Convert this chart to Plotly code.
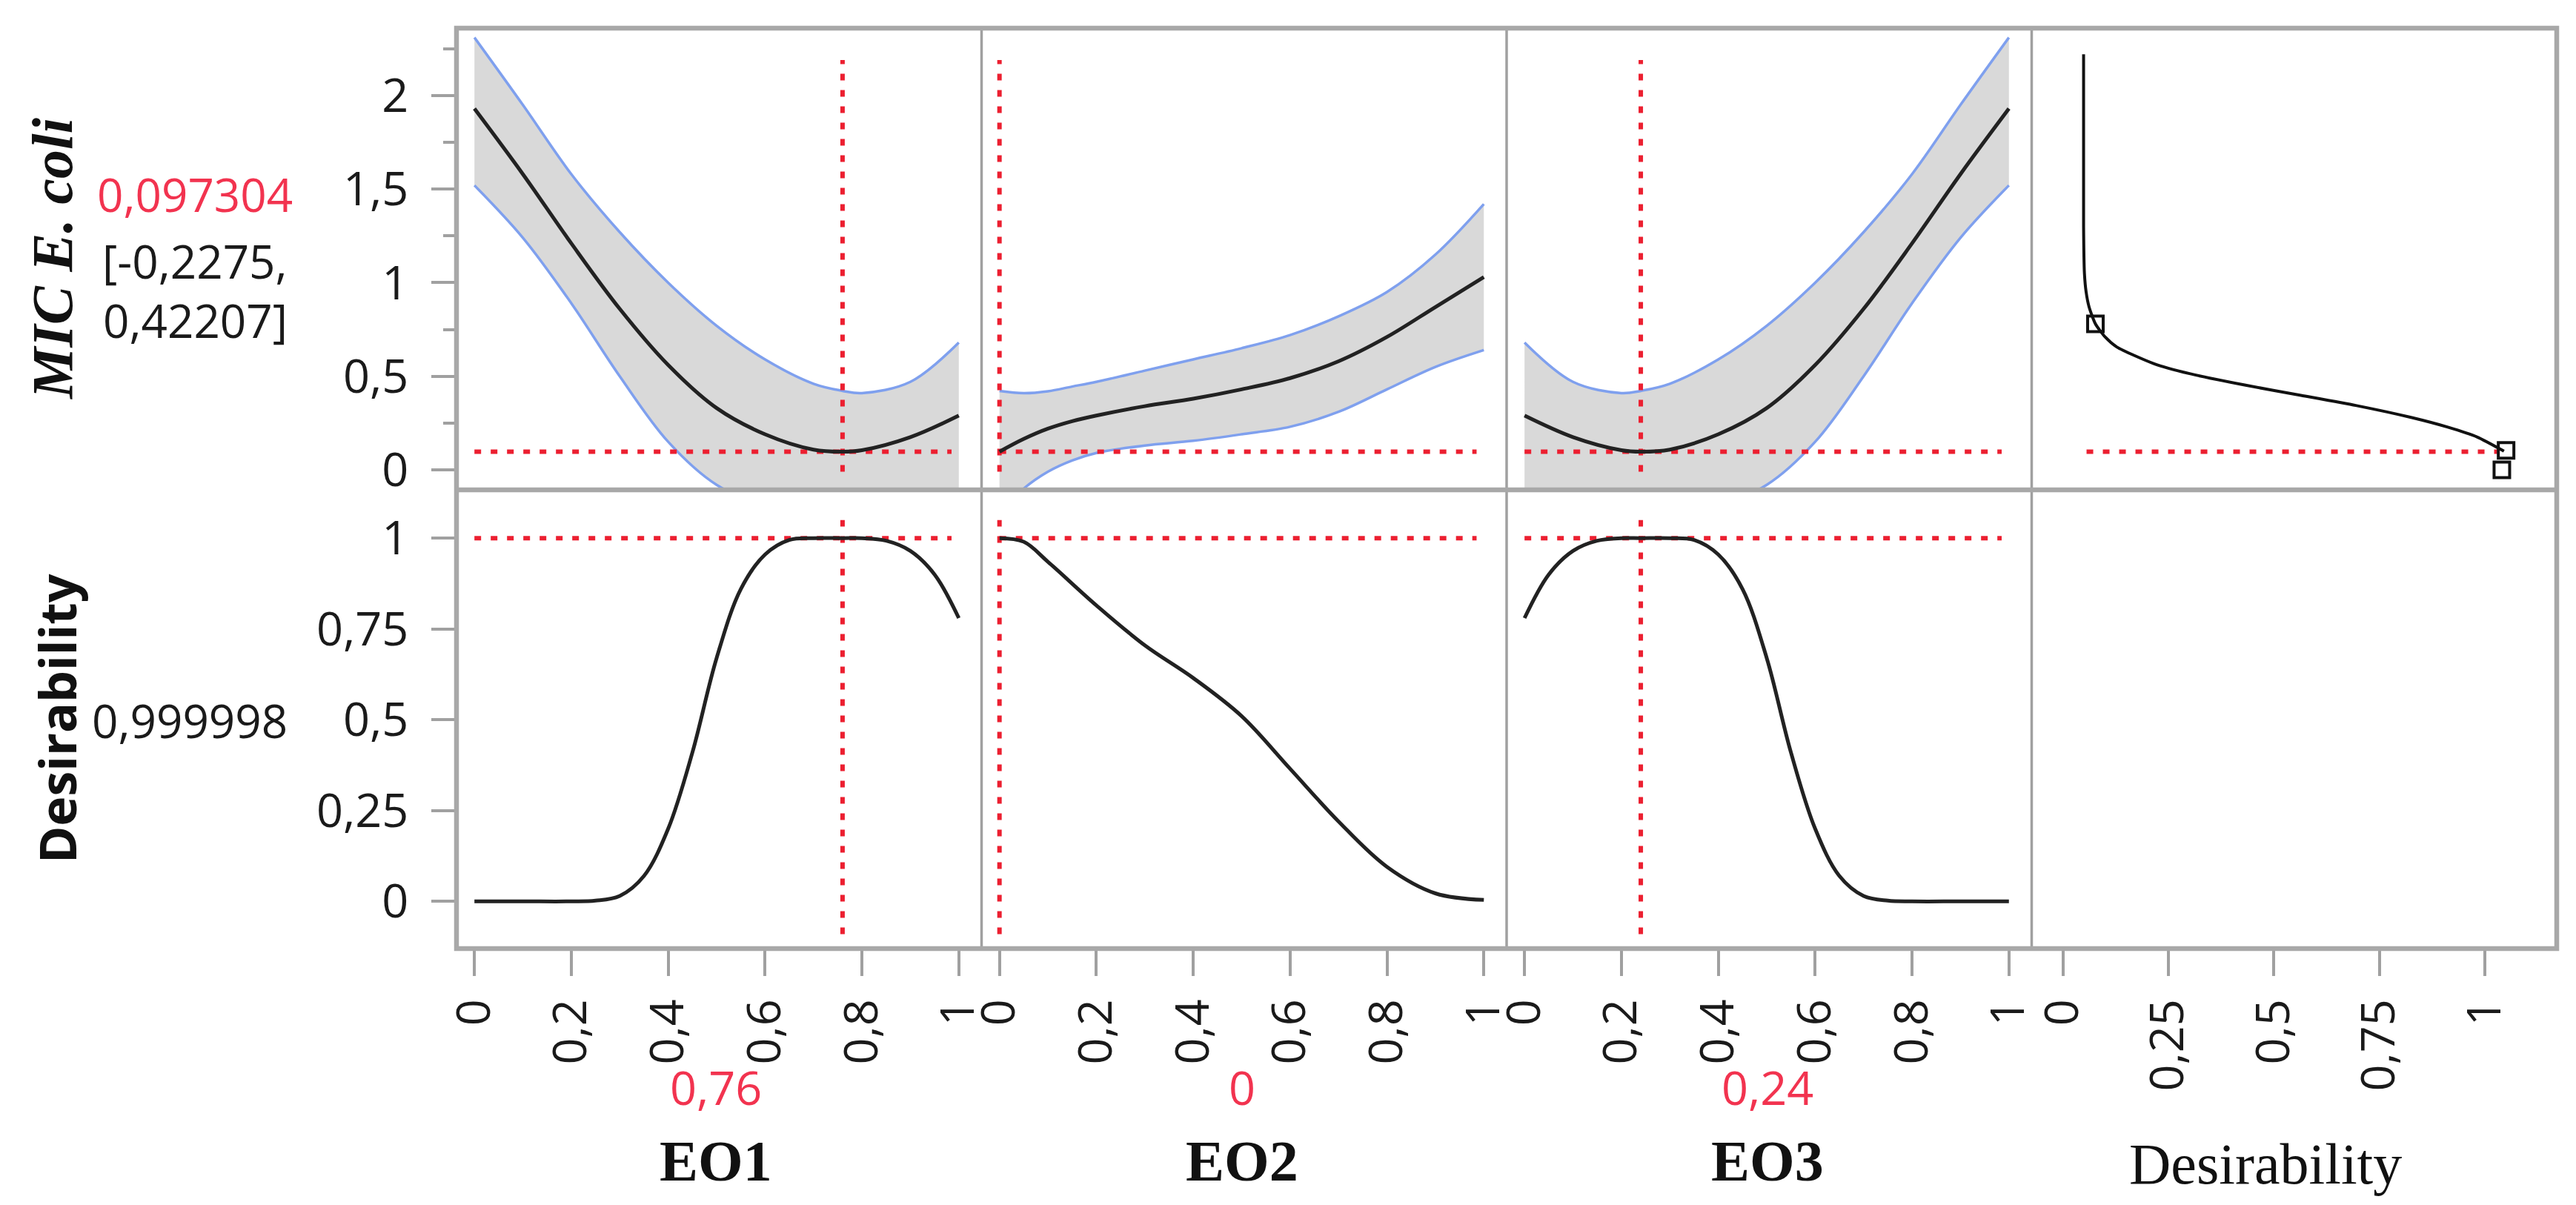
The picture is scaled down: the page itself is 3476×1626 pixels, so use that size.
import plotly.graph_objects as go
from plotly.subplots import make_subplots

# prediction profiler for MIC E. coli, current setting EO1=0,76 EO2=0 EO3=0,24
eo1_x = [0, 0.1, 0.2, 0.3, 0.4, 0.5, 0.6, 0.7, 0.76, 0.8, 0.9, 1.0]
eo1_mic = [1.93, 1.58, 1.21, 0.86, 0.56, 0.33, 0.19, 0.108, 0.097, 0.105, 0.175, 0.29]
eo1_hi = [2.31, 1.95, 1.58, 1.27, 1.00, 0.77, 0.59, 0.46, 0.422, 0.41, 0.47, 0.68]
eo1_lo = [1.52, 1.24, 0.89, 0.50, 0.15, -0.08, -0.19, -0.22, -0.2275, -0.22, -0.19, -0.11]

eo2_x = [0, 0.05, 0.1, 0.15, 0.2, 0.3, 0.4, 0.5, 0.6, 0.7, 0.8, 0.9, 1.0]
eo2_mic = [0.097, 0.165, 0.22, 0.26, 0.29, 0.34, 0.38, 0.43, 0.49, 0.58, 0.71, 0.87, 1.03]
eo2_hi = [0.422, 0.41, 0.42, 0.445, 0.47, 0.53, 0.59, 0.65, 0.72, 0.82, 0.95, 1.15, 1.42]
eo2_lo = [-0.2275, -0.10, -0.01, 0.05, 0.09, 0.13, 0.155, 0.19, 0.23, 0.31, 0.43, 0.55, 0.64]

eo3_x = [0, 0.1, 0.2, 0.24, 0.3, 0.4, 0.5, 0.6, 0.7, 0.8, 0.9, 1.0]
eo3_mic = [0.29, 0.175, 0.105, 0.097, 0.108, 0.19, 0.33, 0.56, 0.86, 1.21, 1.58, 1.93]
eo3_hi = [0.68, 0.47, 0.41, 0.422, 0.46, 0.59, 0.77, 1.00, 1.27, 1.58, 1.95, 2.31]
eo3_lo = [-0.11, -0.19, -0.22, -0.2275, -0.22, -0.19, -0.08, 0.15, 0.50, 0.89, 1.24, 1.52]

# desirability traces
des1_x = [0, 0.1, 0.2, 0.25, 0.3, 0.35, 0.4, 0.45, 0.5, 0.55, 0.6, 0.65, 0.7, 0.76, 0.8, 0.85, 0.9, 0.95, 1.0]
des1 = [0, 0, 0, 0.002, 0.015, 0.07, 0.2, 0.41, 0.67, 0.86, 0.955, 0.995, 1.0, 1.0, 1.0, 0.993, 0.965, 0.90, 0.78]
des2_x = [0, 0.05, 0.1, 0.2, 0.3, 0.4, 0.5, 0.6, 0.7, 0.8, 0.9, 1.0]
des2 = [1.0, 0.99, 0.935, 0.815, 0.705, 0.615, 0.51, 0.365, 0.22, 0.095, 0.022, 0.004]
des3_x = [0, 0.05, 0.1, 0.15, 0.2, 0.24, 0.3, 0.35, 0.4, 0.45, 0.5, 0.55, 0.6, 0.65, 0.7, 0.75, 0.8, 0.9, 1.0]
des3 = [0.78, 0.90, 0.965, 0.993, 1.0, 1.0, 1.0, 0.995, 0.955, 0.86, 0.67, 0.41, 0.2, 0.07, 0.015, 0.002, 0, 0, 0]

# desirability function (x = desirability, y = MIC)
dfun_d = [0.049, 0.049, 0.051, 0.055, 0.062, 0.077, 0.1, 0.128, 0.215, 0.30, 0.433, 0.564, 0.694, 0.825, 0.912, 0.982, 1.045]
dfun_mic = [2.22, 1.3, 1.05, 0.95, 0.87, 0.78, 0.71, 0.656, 0.568, 0.514, 0.452, 0.398, 0.344, 0.28, 0.228, 0.175, 0.10]
dmark_d = [0.077, 1.05, 1.04]
dmark_mic = [0.78, 0.104, 0.0]

current = [0.76, 0, 0.24]
current_txt = ["0,76", "0", "0,24"]
factors = ["EO1", "EO2", "EO3"]
mic_pred = 0.097304
des_pred = 0.999998

mic_ticks = [0, 0.5, 1, 1.5, 2]
mic_ticktext = ["0", "0,5", "1", "1,5", "2"]
des_ticks = [0, 0.25, 0.5, 0.75, 1]
des_ticktext = ["0", "0,25", "0,5", "0,75", "1"]
eo_ticks = [0, 0.2, 0.4, 0.6, 0.8, 1]
eo_ticktext = ["0", "0,2", "0,4", "0,6", "0,8", "1"]

W, H = 3476, 1626
L, R, T, B = 608, 3442, 30, 1272
MID = 653

RED = "#ec1f30"
RED_TXT = "#f2334f"
BLUE = "#7fa0ee"
GREY_FILL = "#d9d9d9"
FRAME = "#a8a8a8"
TICKC = "#a0a0a0"
SANS = "Open Sans"
SERIF = "Liberation Serif"
DOT = dict(color=RED, width=6, dash="9px,13px")

fig = make_subplots(rows=2, cols=4, horizontal_spacing=0, vertical_spacing=0,
                    row_heights=[MID - T, B - MID])

curves = [(eo1_x, eo1_mic, eo1_hi, eo1_lo), (eo2_x, eo2_mic, eo2_hi, eo2_lo),
          (eo3_x, eo3_mic, eo3_hi, eo3_lo)]
des_curves = [(des1_x, des1), (des2_x, des2), (des3_x, des3)]

for i, (x, m, hi, lo) in enumerate(curves):
    c = i + 1
    fig.add_trace(go.Scatter(x=x, y=lo, mode="lines", line=dict(color=BLUE, width=3.5, shape="spline")),
                  row=1, col=c)
    fig.add_trace(go.Scatter(x=x, y=hi, mode="lines", fill="tonexty", fillcolor=GREY_FILL,
                             line=dict(color=BLUE, width=3.5, shape="spline")), row=1, col=c)
    fig.add_trace(go.Scatter(x=[0, 0.985], y=[mic_pred, mic_pred], mode="lines", line=DOT), row=1, col=c)
    fig.add_trace(go.Scatter(x=[current[i], current[i]], y=[-0.01, 2.19], mode="lines", line=DOT),
                  row=1, col=c)
    fig.add_trace(go.Scatter(x=x, y=m, mode="lines", line=dict(color="#222222", width=5, shape="spline")),
                  row=1, col=c)

    dx, dy = des_curves[i]
    fig.add_trace(go.Scatter(x=[0, 0.985], y=[1, 1], mode="lines", line=DOT), row=2, col=c)
    fig.add_trace(go.Scatter(x=[current[i], current[i]], y=[-0.09, 1.05], mode="lines", line=DOT),
                  row=2, col=c)
    fig.add_trace(go.Scatter(x=dx, y=dy, mode="lines", line=dict(color="#222222", width=5, shape="spline")),
                  row=2, col=c)

# desirability function panel
fig.add_trace(go.Scatter(x=[0.056, 1.034], y=[mic_pred, mic_pred], mode="lines", line=DOT), row=1, col=4)
fig.add_trace(go.Scatter(x=dfun_d, y=dfun_mic, mode="lines",
                         line=dict(color="#111111", width=4, shape="spline", smoothing=0.6)), row=1, col=4)
fig.add_trace(go.Scatter(x=dmark_d, y=dmark_mic, mode="markers",
                         marker=dict(symbol="square-open", size=21, color="#111111", line=dict(width=4))),
              row=1, col=4)
# empty bottom-right cell still needs its desirability axis drawn
fig.add_trace(go.Scatter(x=des_ticks, y=[None] * len(des_ticks), mode="lines", hoverinfo="skip"),
              row=2, col=4)

tickfont = dict(family=SANS, size=63, color="#1a1a1a")
for c in range(1, 5):
    xr = [-0.074, 1.17] if c == 4 else [-0.037, 1.047]
    fig.update_xaxes(range=xr, showgrid=False, zeroline=False, showline=False, ticks="",
                     showticklabels=False, row=1, col=c)
    fig.update_xaxes(range=xr, showgrid=False, zeroline=False, showline=False, row=2, col=c,
                     ticks="outside", ticklen=36, tickwidth=4, tickcolor=TICKC,
                     showticklabels=True, tickmode="array",
                     tickvals=des_ticks if c == 4 else eo_ticks,
                     ticktext=des_ticktext if c == 4 else eo_ticktext,
                     tickangle=-90, tickfont=tickfont, ticklabelstandoff=6)
    fig.update_yaxes(range=[-0.107, 2.36], showgrid=False, zeroline=False, showline=False,
                     ticks="", showticklabels=False, row=1, col=c)
    fig.update_yaxes(range=[-0.13, 1.133], showgrid=False, zeroline=False, showline=False,
                     ticks="", showticklabels=False, row=2, col=c)

fig.update_yaxes(row=1, col=1, ticks="outside", ticklen=33, tickwidth=4, tickcolor=TICKC,
                 showticklabels=True, tickvals=mic_ticks, ticktext=mic_ticktext, tickfont=tickfont,
                 ticklabelstandoff=18,
                 minor=dict(ticks="outside", tick0=0, dtick=0.25, ticklen=17, tickwidth=4,
                            tickcolor=TICKC))
fig.update_yaxes(row=2, col=1, ticks="outside", ticklen=33, tickwidth=4, tickcolor=TICKC,
                 showticklabels=True, tickvals=des_ticks, ticktext=des_ticktext, tickfont=tickfont,
                 ticklabelstandoff=18)


def px(x):
    return (x - L) / (R - L)


def py(y):
    return (B - y) / (B - T)


shapes = []
col_edges = [L + (R - L) * k / 4 for k in range(5)]
for xe in col_edges[1:4]:
    shapes.append(dict(type="line", xref="paper", yref="paper", x0=px(xe), x1=px(xe), y0=0, y1=1,
                       line=dict(color="#a0a0a0", width=3.5)))
shapes.append(dict(type="line", xref="paper", yref="paper", x0=0, x1=1, y0=py(MID), y1=py(MID),
                   line=dict(color=FRAME, width=6.5)))
shapes.append(dict(type="rect", xref="paper", yref="paper", x0=0, x1=1, y0=0, y1=1,
                   line=dict(color=FRAME, width=6.5)))

ann = []


def text(x, y, s, size, color="#1a1a1a", family=SANS, angle=0):
    ann.append(dict(x=px(x), y=py(y), xref="paper", yref="paper", text=s, showarrow=False,
                    xanchor="center", yanchor="middle", textangle=angle,
                    font=dict(family=family, size=size, color=color)))


text(62, 341, "<b><i>MIC E. coli</i></b>", 78, "#111111", SERIF, -90)
text(255, 254, "0,097304", 62, RED_TXT)
text(255, 344, "[-0,2275,", 62)
text(255, 424, "0,42207]", 62)
text(68, 962, "<b>Desirability</b>", 68, "#111111", SANS, -90)
text(248, 964, "0,999998", 62)

data_centers = [958, 1668, 2377]
for i in range(3):
    text(data_centers[i], 1458, current_txt[i], 63, RED_TXT)
    text(data_centers[i], 1558, "<b>" + factors[i] + "</b>", 78, "#111111", SERIF)
text(3049, 1562, "Desirability", 78, "#111111", SERIF)

fig.update_layout(width=W, height=H, margin=dict(l=L, r=W - R, t=T, b=H - B),
                  paper_bgcolor="white", plot_bgcolor="white", showlegend=False,
                  shapes=shapes, annotations=ann)

fig.write_html("out.html")
